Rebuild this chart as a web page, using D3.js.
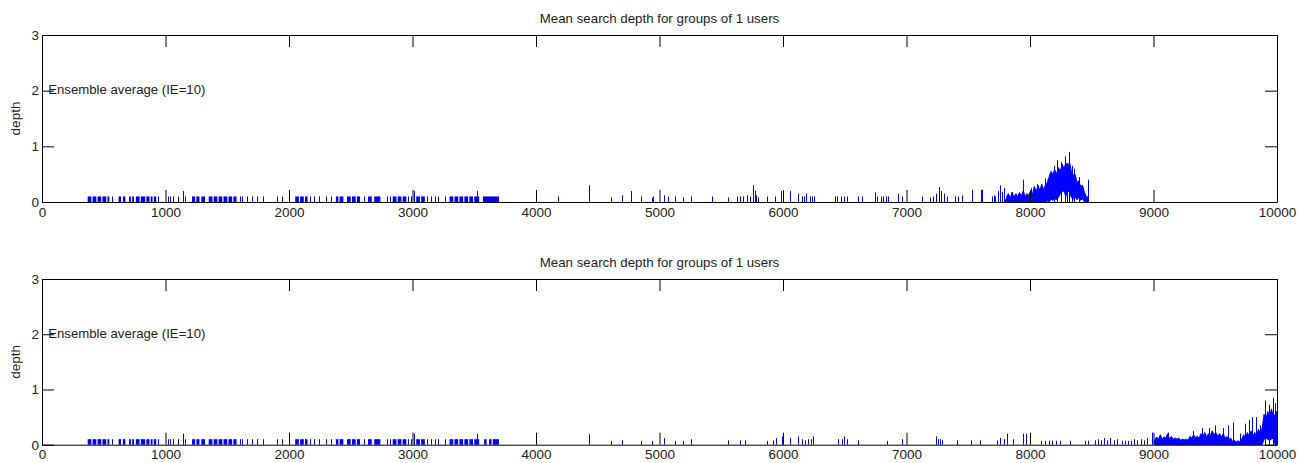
<!DOCTYPE html>
<html>
<head>
<meta charset="utf-8">
<script src="https://cdn.jsdelivr.net/npm/d3@7"></script>
<style>
  body { margin: 0; background: #fff; }
  svg text { font-family: "Liberation Sans", Arial, sans-serif; fill: #222; }
</style>
</head>
<body>
<svg id="chart" width="1305" height="463"></svg>
<script>
// ---------- data ----------
const xTicks = [0, 1000, 2000, 3000, 4000, 5000, 6000, 7000, 8000, 9000, 10000];
const yTicks = [0, 1, 2, 3];
const titleText = 'Mean search depth for groups of 1 users';
const noteText = 'Ensemble average (IE=10)';

// runs of small values: [x0, x1, depth]
const earlyBlocks = [
  [370,400,0.1],[410,440,0.1],[450,480,0.1],[490,520,0.1],[530,545,0.1],
  [620,640,0.1],[655,675,0.1],[705,720,0.1],[730,745,0.1],
  [760,790,0.1],[800,835,0.1],[845,870,0.1],[880,895,0.1],[905,925,0.1],
  [1215,1240,0.1],[1250,1275,0.1],[1290,1320,0.1],
  [1350,1380,0.1],[1390,1420,0.1],[1430,1460,0.1],[1470,1500,0.1],[1510,1540,0.1],[1550,1575,0.1],
  [2050,2080,0.1],[2090,2120,0.1],[2130,2150,0.1],
  [2380,2400,0.1],[2410,2440,0.1],[2470,2500,0.1],[2510,2540,0.1],[2550,2575,0.1],
  [2640,2670,0.1],[2690,2740,0.1],[2840,2870,0.1],[2880,2910,0.1],[2920,2950,0.1],
  [3030,3060,0.1],[3070,3100,0.1],
  [3300,3330,0.1],[3340,3370,0.1],[3380,3410,0.1],[3420,3450,0.1],[3460,3490,0.1],[3500,3540,0.1]
];
// single spikes: [x, depth]
const earlySpikes = [
  [565,0.1],[940,0.1],[1020,0.1],[1040,0.1],[1060,0.1],[1100,0.1],[1140,0.2],[1160,0.1],
  [1600,0.1],[1620,0.1],[1660,0.1],[1700,0.1],[1740,0.1],[1790,0.1],[1900,0.1],[1940,0.1],
  [2170,0.1],[2200,0.1],[2240,0.1],[2300,0.1],[2340,0.1],[2610,0.1],[2790,0.1],[2820,0.1],
  [2965,0.1],[2985,0.1],[3010,0.2],[3120,0.1],[3150,0.1],[3180,0.1],[3210,0.1],[3260,0.1],[3525,0.2]
];

const topBlocks = [[3570,3700,0.1]];
const topSpikes = [
  [4180,0.1],[4430,0.3],[4605,0.08],[4697,0.12],[4767,0.2],[4848,0.1],[4940,0.08],[4950,0.1],
  [5036,0.12],[5069,0.1],[5125,0.1],[5188,0.08],[5255,0.1],[5428,0.1],[5557,0.08],
  [5625,0.1],[5650,0.1],[5680,0.1],[5705,0.12],[5733,0.1],[5760,0.3],[5772,0.2],[5785,0.12],[5798,0.08],
  [5868,0.1],[5935,0.1],[5985,0.2],[6057,0.2],[6124,0.15],
  [6150,0.1],[6170,0.1],[6190,0.15],[6215,0.1],[6235,0.1],[6255,0.1],
  [6421,0.1],[6440,0.1],[6470,0.1],[6495,0.1],[6520,0.1],[6607,0.1],[6640,0.1],
  [6745,0.17],[6765,0.1],[6790,0.1],[6810,0.1],[6830,0.1],[6850,0.1],[6931,0.15],[6960,0.1],
  [7123,0.1],[7190,0.08],[7215,0.1],[7240,0.15],[7262,0.27],[7280,0.2],[7300,0.15],[7327,0.1],
  [7393,0.1],[7420,0.1],[7450,0.12],[7528,0.22],[7600,0.22],[7612,0.22],
  [7690,0.1],[7705,0.12],[7720,0.1],[7740,0.2],[7755,0.3],[7770,0.18],[7790,0.25],[7800,0.05],
  [7945,0.4],[8010,0.25],[8060,0.32],[8120,0.42],[8150,0.5],[8195,0.65],[8215,0.75],[8250,0.72],
  [8280,0.82],[8300,0.7],[8312,0.9],[8340,0.65],[8360,0.6],[8395,0.45],[8470,0.4]
];
// dense stretch: [x, low, high]
const topBand = [
  [7811,0,0.1],[7825,0,0.15],[7840,0,0.06],[7855,0,0.18],[7870,0,0.08],[7885,0,0.15],[7900,0,0.1],
  [7915,0,0.17],[7930,0,0.1],[7945,0,0.2],[7960,0,0.1],[7975,0,0.15],[7990,0,0.12],[8005,0,0.2],
  [8020,0,0.14],[8035,0,0.28],[8050,0,0.18],[8065,0,0.3],[8080,0,0.2],[8095,0,0.32],[8110,0,0.22],
  [8125,0,0.3],[8140,0.02,0.35],[8155,0,0.45],[8170,0.05,0.55],[8185,0.03,0.5],[8200,0.06,0.58],
  [8215,0.04,0.5],[8230,0.08,0.62],[8245,0.15,0.55],[8260,0.18,0.68],[8275,0.2,0.6],[8290,0.1,0.7],
  [8305,0.2,0.6],[8320,0.18,0.72],[8335,0.08,0.55],[8350,0.05,0.48],[8365,0.1,0.5],[8380,0.04,0.35],
  [8395,0.08,0.38],[8410,0.03,0.28],[8425,0.06,0.3],[8440,0,0.18],[8455,0,0.1],[8474,0,0.08]
];

const bottomBlocks = [[3580,3600,0.1],[3620,3640,0.1],[3650,3700,0.1]];
const bottomSpikes = [
  [4430,0.19],[4605,0.07],[4697,0.08],[4848,0.07],[4942,0.07],[5036,0.12],[5125,0.07],[5188,0.07],
  [5255,0.1],[5557,0.08],[5650,0.08],[5690,0.08],[5868,0.07],[5920,0.08],[5945,0.12],[5990,0.15],
  [6057,0.12],[6124,0.15],
  [6150,0.1],[6175,0.08],[6200,0.1],[6225,0.1],[6245,0.15],
  [6445,0.1],[6480,0.1],[6495,0.15],[6520,0.1],[6607,0.08],[6842,0.07],[6961,0.1],
  [7239,0.15],[7255,0.1],[7270,0.1],[7285,0.08],[7406,0.08],[7522,0.08],[7595,0.08],
  [7730,0.08],[7760,0.12],[7790,0.1],[7815,0.2],[7863,0.1],[7946,0.2],[7970,0.2],
  [8090,0.07],[8120,0.07],[8150,0.07],[8180,0.07],[8210,0.07],[8240,0.07],[8324,0.07],
  [8445,0.07],[8470,0.07],[8530,0.08],[8550,0.1],[8575,0.08],[8600,0.12],[8620,0.08],[8650,0.12],
  [8680,0.08],[8705,0.1],[8745,0.07],[8770,0.07],[8790,0.07],[8820,0.07],[8845,0.1],[8870,0.08],
  [8895,0.1],[8920,0.08],[8945,0.12],[8985,0.22],
  [9120,0.22],[9320,0.25],[9390,0.3],[9450,0.3],[9500,0.35],[9560,0.3],[9600,0.35],[9640,0.4],
  [9700,0.2],[9740,0.38],[9770,0.45],[9800,0.5],[9830,0.5],[9860,0.35],[9900,0.8],[9935,0.72],
  [9965,0.85],[9980,0.75],[9995,0.6]
];
const bottomBand = [
  [9010,0,0.08],[9025,0,0.14],[9040,0,0.1],[9055,0,0.18],[9070,0,0.1],[9085,0,0.14],[9100,0,0.12],
  [9115,0,0.2],[9130,0,0.1],[9145,0,0.15],[9160,0,0.1],[9175,0,0.12],[9190,0,0.1],[9205,0,0.12],
  [9220,0,0.08],[9235,0,0.1],[9250,0,0.09],[9265,0,0.1],[9280,0,0.08],[9295,0,0.15],[9310,0,0.12],
  [9325,0,0.18],[9340,0,0.13],[9355,0,0.15],[9370,0,0.12],[9385,0,0.2],[9400,0,0.14],[9415,0,0.22],
  [9430,0,0.15],[9445,0,0.2],[9460,0,0.16],[9475,0,0.25],[9490,0,0.18],[9505,0,0.22],[9520,0,0.15],
  [9535,0,0.2],[9550,0,0.14],[9565,0,0.2],[9580,0,0.12],[9595,0,0.15],[9610,0,0.1],[9625,0,0.12],
  [9640,0,0.06],[9655,0,0.08],[9670,0,0.05],[9685,0,0.07],[9700,0,0.05],[9715,0,0.1],[9730,0,0.18],
  [9745,0,0.12],[9760,0,0.22],[9775,0,0.15],[9790,0,0.25],[9805,0,0.16],[9820,0,0.22],[9835,0,0.15],
  [9850,0,0.28],[9865,0,0.2],[9880,0,0.3],[9895,0.1,0.55],[9910,0.12,0.45],[9925,0.1,0.6],
  [9940,0.08,0.5],[9955,0.1,0.65],[9970,0.12,0.5],[9985,0,0.55],[10000,0,0.6]
];

// ---------- drawing ----------
const svg = d3.select('#chart');
const left = 42, right = 1277;
const blue = '#0000ff';
const tickLen = 12;

const x = d3.scaleLinear().domain([0, 10000]).range([left, right]);

function drawPanel(top, bottom, titleY, blocks, spikes, band) {
    const y = d3.scaleLinear().domain([0, 3]).range([bottom, top]);
    const g = svg.append('g');

    // data
    g.append('g').selectAll('rect')
        .data(blocks)
        .enter().append('rect')
        .attr('x', d => x(d[0]))
        .attr('width', d => Math.max(1, x(d[1]) - x(d[0])))
        .attr('y', d => y(d[2]))
        .attr('height', d => y(0) - y(d[2]))
        .attr('fill', blue);

    const area = d3.area()
        .x(d => x(d[0]))
        .y0(d => y(d[1]))
        .y1(d => y(d[2]));
    g.append('path')
        .datum(band)
        .attr('d', area)
        .attr('fill', blue)
        .attr('stroke', blue)
        .attr('stroke-width', 1);

    g.append('g').selectAll('line')
        .data(spikes)
        .enter().append('line')
        .attr('x1', d => Math.round(x(d[0])) + 0.5)
        .attr('x2', d => Math.round(x(d[0])) + 0.5)
        .attr('y1', y(0))
        .attr('y2', d => y(d[1]))
        .attr('stroke', blue)
        .attr('stroke-width', 1);

    // axes, ticks pointing inward on all four sides
    const ax = g.append('g').attr('class', 'axes');
    ax.append('g')
        .attr('transform', `translate(0,${bottom})`)
        .call(d3.axisBottom(x).tickValues(xTicks).tickSize(-tickLen).tickSizeOuter(0).tickPadding(5).tickFormat(d3.format('d')));
    ax.append('g')
        .attr('transform', `translate(0,${top})`)
        .call(d3.axisTop(x).tickValues(xTicks).tickSize(-tickLen).tickSizeOuter(0).tickFormat(''));
    ax.append('g')
        .attr('transform', `translate(${left},0)`)
        .call(d3.axisLeft(y).tickValues(yTicks).tickSize(-tickLen).tickSizeOuter(0).tickPadding(3).tickFormat(d3.format('d')));
    ax.append('g')
        .attr('transform', `translate(${right},0)`)
        .call(d3.axisRight(y).tickValues(yTicks).tickSize(-tickLen).tickSizeOuter(0).tickFormat(''));
    ax.selectAll('.domain').attr('stroke', '#000');
    ax.selectAll('.tick line').attr('stroke', '#000');
    ax.selectAll('.tick text')
        .attr('fill', '#222')
        .style('font-size', '13.5px')
        .style('font-family', '"Liberation Sans", Arial, sans-serif');

    // labels
    g.append('text')
        .attr('x', (left + right) / 2)
        .attr('y', titleY)
        .attr('text-anchor', 'middle')
        .attr('dominant-baseline', 'middle')
        .style('font-size', '13.3px')
        .text(titleText);

    g.append('text')
        .attr('transform', `translate(16,${(top + bottom) / 2}) rotate(-90)`)
        .attr('text-anchor', 'middle')
        .attr('dominant-baseline', 'middle')
        .style('font-size', '13.5px')
        .text('depth');

    g.append('text')
        .attr('x', x(50))
        .attr('y', y(2))
        .attr('dominant-baseline', 'middle')
        .style('font-size', '13.2px')
        .text(noteText);
}

drawPanel(35, 202, 19, earlyBlocks.concat(topBlocks), earlySpikes.concat(topSpikes), topBand);
drawPanel(279, 444.7, 263, earlyBlocks.concat(bottomBlocks), earlySpikes.concat(bottomSpikes), bottomBand);
</script>
</body>
</html>
